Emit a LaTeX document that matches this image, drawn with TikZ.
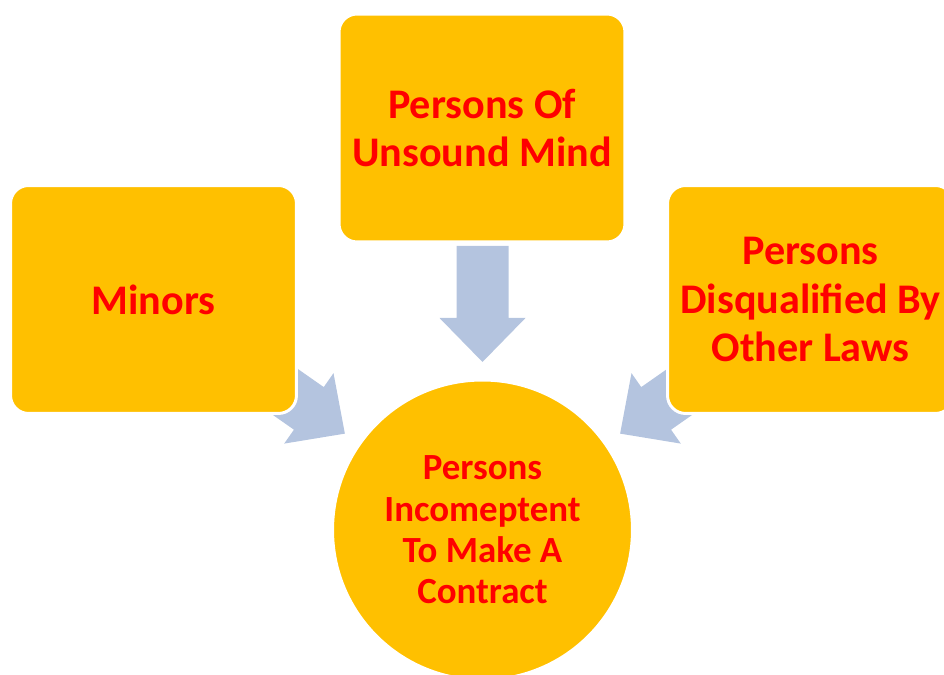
\documentclass[tikz,border=0pt]{standalone}
\usepackage{fontspec}
\setmainfont{Carlito}
\usetikzlibrary{positioning}

\definecolor{boxgold}{RGB}{255,192,0}
\definecolor{arrowblue}{RGB}{180,196,223}
\definecolor{labelred}{RGB}{255,0,0}

\tikzset{
  party/.style={draw=white, line width=1.7pt, fill=boxgold, rectangle, rounded corners=0.36cm,
    minimum width=5.72cm, minimum height=4.56cm, text=labelred, align=center,
    font=\bfseries\fontsize{24}{27.5}\selectfont},
  hub/.style={draw=white, line width=1.7pt, fill=boxgold, circle, minimum size=6cm,
    text=labelred, align=center, font=\bfseries\fontsize{21}{23.5}\selectfont},
  convarrow/.pic={\fill[arrowblue] (0,0) -- (43,44) -- (26,44) -- (26,116) -- (-26,116) -- (-26,44) -- (-43,44) -- cycle;}
}

\begin{document}
\begin{tikzpicture}[x=0.02cm, y=0.02cm]
\useasboundingbox (0,0) rectangle (944,675);
\node[hub] (contract) at (482.5,145) {Persons\\Incomeptent\\To Make A\\Contract};
% arrows pointing into the circle
\path (contract.center) ++(90:168) pic {convarrow};
\path (contract.center) ++(145:168) pic[rotate=55] {convarrow};
\path (contract.center) ++(35:168) pic[rotate=-55] {convarrow};
\node[party] (unsound) at (482,547) {Persons Of\\Unsound Mind};
\node[party] (minors) at (153.5,375.5) {Minors};
\node[party] (otherlaws) at (810.5,375.5) {Persons\\Disqualified By\\Other Laws};
\end{tikzpicture}
\end{document}
